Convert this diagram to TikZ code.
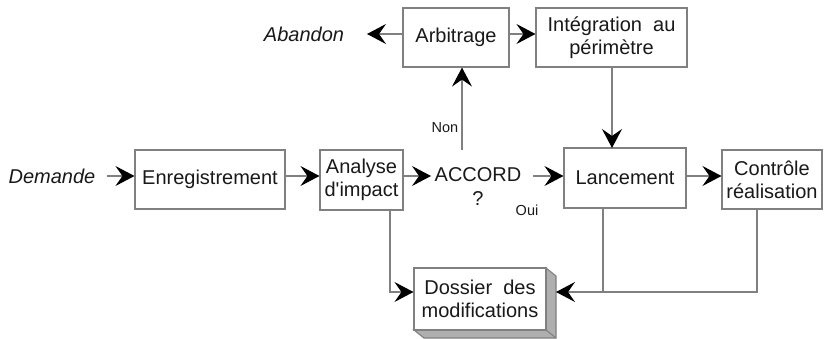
\documentclass[tikz,border=0pt]{standalone}
\usepackage{fontspec}
\setmainfont{Liberation Sans}
\usetikzlibrary{arrows.meta,calc}
\definecolor{edgegray}{RGB}{128,128,128}
\definecolor{inkgray}{RGB}{25,25,25}
\definecolor{sidegray}{RGB}{175,175,175}
\tikzset{
  box/.style={draw=edgegray, line width=1.1pt, fill=white, inner sep=0pt,
    align=center, text=inkgray, font=\fontsize{20}{23}\selectfont},
  plain/.style={inner sep=0pt, text=inkgray, font=\fontsize{20}{23}\selectfont},
  small/.style={inner sep=0pt, text=inkgray, font=\fontsize{14.5}{17}\selectfont},
  link/.style={draw=edgegray, line width=1.1pt},
  flow/.style={link, -{Stealth[length=19pt,width=20pt,inset=7pt,fill=black,color=black]}},
}
\begin{document}
\begin{tikzpicture}[x=1pt,y=-1pt]
\useasboundingbox (0,0) rectangle (824,339);

% main boxes
\node[box, minimum width=106pt, minimum height=59pt] (arb) at (456,37.5) {Arbitrage};
\node[box, minimum width=151pt, minimum height=59pt] (integ) at (611.5,37.5) {Intégration\ \ au\\périmètre};
\node[box, minimum width=150pt, minimum height=59pt] (enr) at (210,179.5) {Enregistrement};
\node[box, minimum width=83pt, minimum height=60pt] (ana) at (361.5,180) {Analyse\\d\textquotesingle impact};
\node[box, minimum width=122pt, minimum height=60pt] (lan) at (625,178) {Lancement};
\node[box, minimum width=100pt, minimum height=59pt] (ctl) at (772,179.5) {Contrôle\\réalisation};

% the file of modifications, drawn as a raised block
\fill[sidegray, draw=edgegray, line width=1.1pt] (546,268) -- (556,276) -- (556,338) -- (424,338) -- (414,330) -- (546,330) -- cycle;
\draw[edgegray, line width=1.1pt] (546,330) -- (556,338);
\node[box, minimum width=132pt, minimum height=62pt] (dos) at (480,299) {Dossier\ \ des\\modifications};
\coordinate (dosr) at (556,292);

% free texts
\node[plain, font=\fontsize{20}{23}\selectfont\itshape] (dem) at (52,176) {Demande};
\node[plain, font=\fontsize{20}{23}\selectfont\itshape] (aban) at (304,34) {Abandon};
\node[plain] (acc) at (478,175) {ACCORD};
\node[plain] (q) at (478,199) {?};
\node[small] (non) at (445,128) {Non};
\node[small] (oui) at (527,210) {Oui};

% routing points
\coordinate (nonbase) at (462,150);
\coordinate (anadown) at (390,292);
\coordinate (landown) at (603,292);
\coordinate (ctldown) at (757,292);

% main row
\draw[flow] (107,176) -- (enr.west |- 0,176);
\draw[flow] (enr.east |- 0,176) -- (ana.west |- 0,176);
\draw[flow] (ana.east |- 0,176) -- (431,176);
\draw[flow] (533,176) -- (lan.west |- 0,176);
\draw[flow] (lan.east |- 0,176) -- (ctl.west |- 0,176);

% arbitration branch
\draw[flow] (nonbase) -- (nonbase |- arb.south);
\draw[flow] (arb.west |- 0,34) -- (367,34);
\draw[flow] (arb.east |- 0,34) -- (integ.west |- 0,34);
\draw[flow] (612,67) -- (612,148);

% into the file of modifications
\draw[flow] (anadown |- ana.south) -- (anadown) -- (dos.west |- anadown);
\draw[link] (landown |- lan.south) -- (landown);
\draw[flow] (ctldown |- ctl.south) -- (ctldown) -- (dosr);
\end{tikzpicture}
\end{document}
